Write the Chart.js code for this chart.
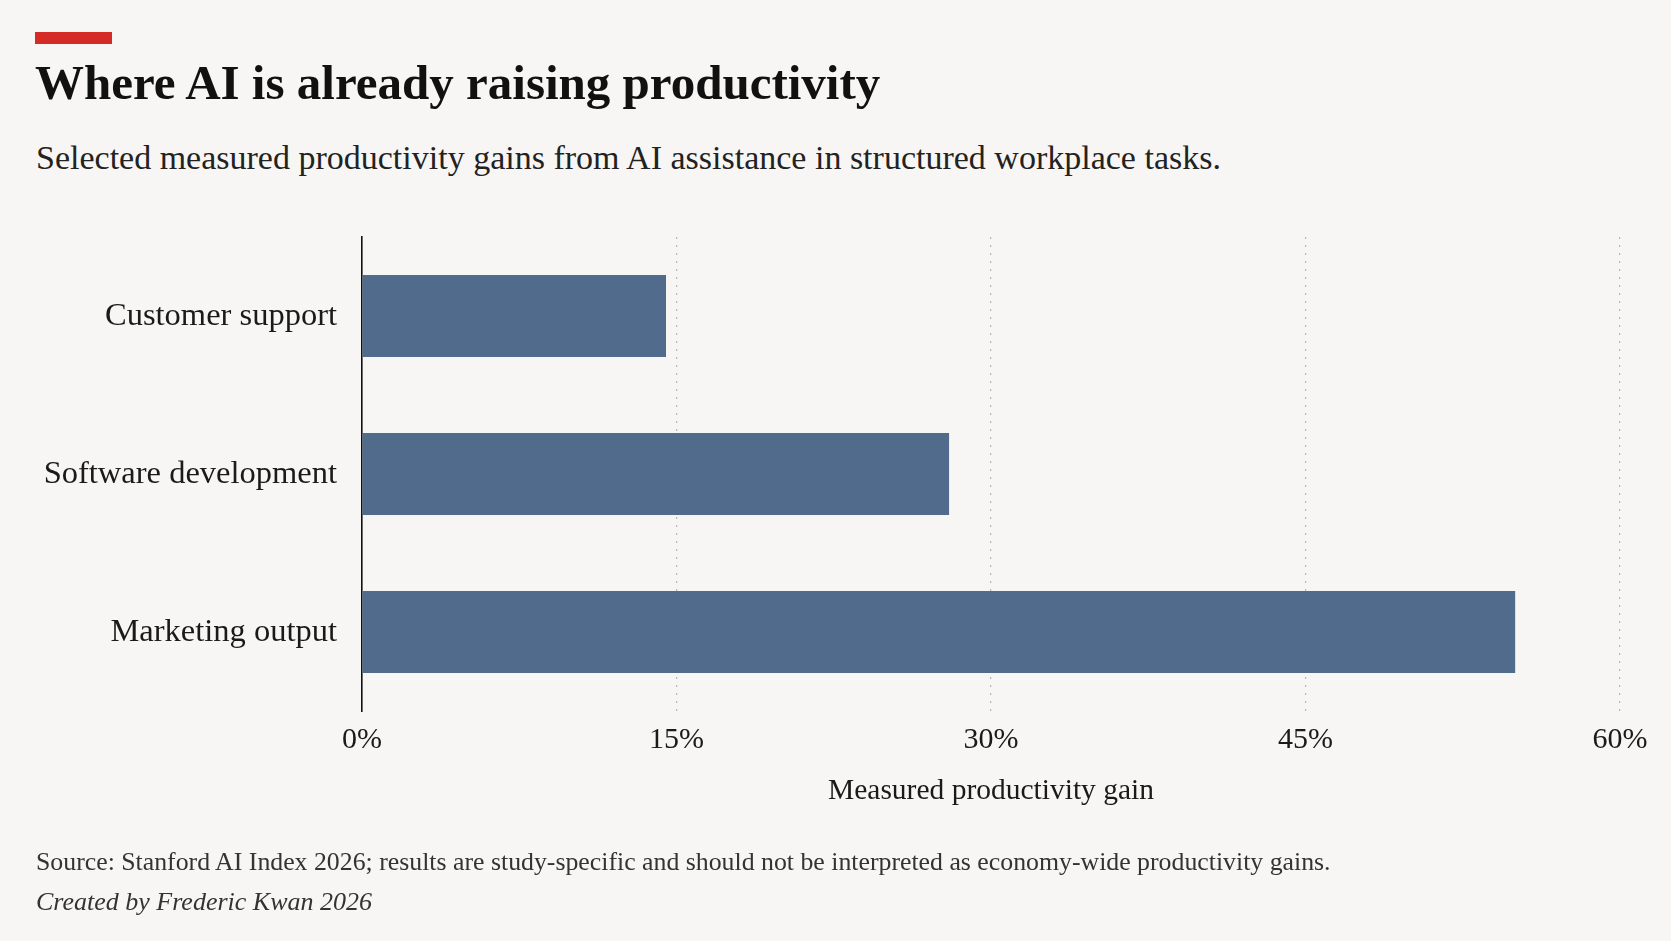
<!DOCTYPE html>
<html>
<head>
<meta charset="utf-8">
<script src="https://cdn.jsdelivr.net/npm/chart.js@4.4.1/dist/chart.umd.min.js"></script>
<style>
  html, body { margin: 0; padding: 0; background: #f7f6f4; }
  body { width: 1671px; height: 941px; position: relative; overflow: hidden; font-family: "Liberation Serif", "DejaVu Serif", serif; }
  .bar { position: absolute; left: 35px; top: 32px; width: 77px; height: 12px; background: #d62a27; }
  .title { position: absolute; left: 35px; top: 54px; font-size: 49px; font-weight: bold; color: #111; white-space: nowrap; }
  .subtitle { position: absolute; left: 36px; top: 139px; font-size: 34px; color: #222; white-space: nowrap; }
  .source { position: absolute; left: 36px; top: 847px; font-size: 25.8px; color: #333; white-space: nowrap; }
  .credit { position: absolute; left: 36px; top: 887px; font-size: 26px; font-style: italic; color: #333; white-space: nowrap; }
  #wrap { position: absolute; left: 0; top: 0; width: 1671px; height: 941px; }
</style>
</head>
<body>
<div class="bar"></div>
<div class="title">Where AI is already raising productivity</div>
<div class="subtitle">Selected measured productivity gains from AI assistance in structured workplace tasks.</div>
<div id="wrap"><canvas id="chart"></canvas></div>
<div class="source">Source: Stanford AI Index 2026; results are study-specific and should not be interpreted as economy-wide productivity gains.</div>
<div class="credit">Created by Frederic Kwan 2026</div>
<script>
// Data
const CATEGORIES = ['Customer support', 'Software development', 'Marketing output'];
const GAINS = [14.5, 28, 55];
const TICK_VALUES = [0, 15, 30, 45, 60];
const AXIS_TITLE = 'Measured productivity gain';

// Colors
const BAR_COLOR = '#516b8c';
const TEXT_COLOR = '#1a1a1a';
const GRID_COLOR = 'rgba(120, 120, 120, 0.5)';
const AXIS_COLOR = '#111111';

// Fonts
const FONT_FAMILY = '"Liberation Serif", "DejaVu Serif", serif';

Chart.defaults.font.family = FONT_FAMILY;
Chart.defaults.color = TEXT_COLOR;

const ctx = document.getElementById('chart');

new Chart(ctx, {
    type: 'bar',
    data: {
        labels: CATEGORIES,
        datasets: [{
            data: GAINS,
            backgroundColor: BAR_COLOR,
            borderWidth: 0,
            barPercentage: 0.52,
            categoryPercentage: 1
        }]
    },
    options: {
        indexAxis: 'y',
        responsive: true,
        maintainAspectRatio: false,
        animation: false,
        layout: {
            padding: { top: 237, right: 51, bottom: 0, left: 0 }
        },
        scales: {
            x: {
                min: 0,
                max: 60,
                afterBuildTicks: (scale) => {
                    scale.ticks = TICK_VALUES.map(v => ({ value: v }));
                },
                afterFit: (scale) => { scale.height = 230; },
                grid: {
                    color: (c) => c.index === 0 ? 'rgba(0,0,0,0)' : GRID_COLOR,
                    lineWidth: 1.2,
                    drawTicks: false
                },
                border: { display: false, dash: [2, 6] },
                ticks: {
                    padding: 11,
                    font: { size: 30 },
                    color: TEXT_COLOR,
                    maxRotation: 0,
                    callback: (v) => v + '%'
                },
                title: {
                    display: true,
                    text: AXIS_TITLE,
                    font: { size: 29.5 },
                    color: TEXT_COLOR,
                    padding: { top: 0, bottom: 132 }
                }
            },
            y: {
                afterFit: (scale) => { scale.width = 362; },
                grid: { display: false, drawTicks: false },
                border: { display: true, color: AXIS_COLOR, width: 1.6 },
                ticks: {
                    padding: 25,
                    font: { size: 32.5 },
                    color: TEXT_COLOR
                }
            }
        },
        plugins: {
            legend: { display: false },
            tooltip: { enabled: false }
        }
    }
});
</script>
</body>
</html>
